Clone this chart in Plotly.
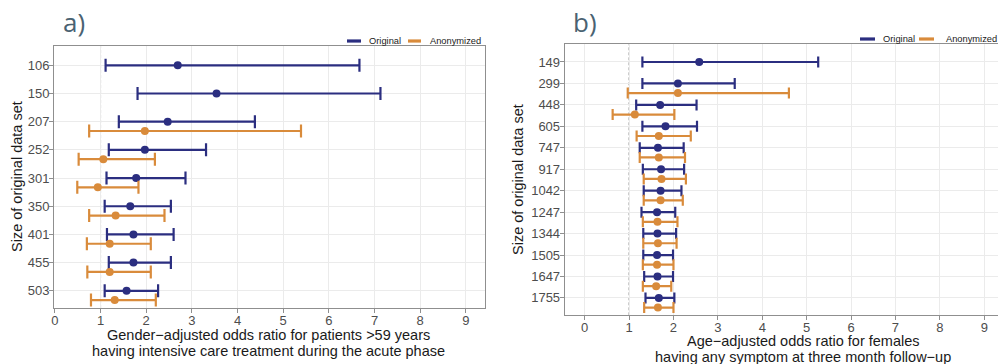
import plotly.graph_objects as go

# ---------------- data ----------------
# Panel a
a_sizes = ["106", "150", "207", "252", "301", "350", "401", "455", "503"]
a_orig_est = [2.69, 3.54, 2.47, 1.97, 1.78, 1.65, 1.72, 1.72, 1.57]
a_orig_lo = [1.11, 1.81, 1.40, 1.18, 1.13, 1.09, 1.14, 1.18, 1.09]
a_orig_hi = [6.67, 7.13, 4.38, 3.31, 2.86, 2.54, 2.60, 2.54, 2.26]
a_anon_est = [None, None, 1.97, 1.06, 0.94, 1.33, 1.20, 1.20, 1.31]
a_anon_lo = [None, None, 0.75, 0.52, 0.49, 0.75, 0.70, 0.71, 0.79]
a_anon_hi = [None, None, 5.39, 2.19, 1.83, 2.40, 2.10, 2.10, 2.21]

# Panel b
b_sizes = ["149", "299", "448", "605", "747", "917", "1042", "1247", "1344", "1505", "1647", "1755"]
b_orig_est = [2.58, 2.10, 1.70, 1.82, 1.65, 1.72, 1.71, 1.63, 1.64, 1.63, 1.64, 1.67]
b_orig_lo = [1.30, 1.30, 1.16, 1.30, 1.24, 1.31, 1.33, 1.28, 1.32, 1.32, 1.34, 1.37]
b_orig_hi = [5.26, 3.38, 2.52, 2.53, 2.23, 2.24, 2.18, 2.04, 2.06, 1.99, 1.99, 2.02]
b_anon_est = [None, 2.10, 1.13, 1.67, 1.67, 1.73, 1.71, 1.64, 1.65, 1.63, 1.61, 1.65]
b_anon_lo = [None, 0.97, 0.63, 1.17, 1.24, 1.33, 1.33, 1.31, 1.32, 1.31, 1.31, 1.34]
b_anon_hi = [None, 4.60, 2.02, 2.39, 2.26, 2.28, 2.21, 2.09, 2.07, 2.00, 1.95, 2.00]

x_ticks = [0, 1, 2, 3, 4, 5, 6, 7, 8, 9]
series_names = ["Original", "Anonymized"]
a_xtitle = ["Gender\u2212adjusted odds ratio for patients >59 years",
            "having intensive care treatment during the acute phase"]
b_xtitle = ["Age\u2212adjusted odds ratio for females",
            "having any symptom at three month follow\u2212up"]
y_title = "Size of original data set"
panel_labels = ["a)", "b)"]

# ---------------- style ----------------
NAVY = "#2b2e80"
ORANGE = "#d98b3b"
GRID = "#ebebeb"
BORDER = "#8f8f8f"
TICKC = "#4d4d4d"
FONT = "Liberation Sans, Arial, sans-serif"
W, H = 998, 364


def px_x(p):
    return p / W


def px_y(p):
    return 1 - p / H


fig = go.Figure()


def add_panel(sizes, oe, ol, oh, ae, al, ah, xa, ya, offset, cap):
    idx = list(range(len(sizes)))
    for name, est, lo, hi, color, yoff in [(series_names[0], oe, ol, oh, NAVY, 0.0),
                                            (series_names[1], ae, al, ah, ORANGE, offset)]:
        xs, ys, em, ep = [], [], [], []
        for i, e, l, h in zip(idx, est, lo, hi):
            if e is None:
                continue
            xs.append(e)
            ys.append(i + yoff)
            em.append(e - l)
            ep.append(h - e)
        fig.add_trace(go.Scatter(
            x=xs, y=ys, mode="markers", name=name, xaxis=xa, yaxis=ya, showlegend=False,
            marker=dict(color=color, size=8),
            error_x=dict(type="data", array=ep, arrayminus=em, color=color,
                         thickness=2.2, width=cap),
            hoverinfo="x+y+name"))


add_panel(a_sizes, a_orig_est, a_orig_lo, a_orig_hi, a_anon_est, a_anon_lo, a_anon_hi,
          "x", "y", 0.33, 6.5)
add_panel(b_sizes, b_orig_est, b_orig_lo, b_orig_hi, b_anon_est, b_anon_lo, b_anon_hi,
          "x2", "y2", 0.45, 5.5)

axis_common = dict(showgrid=True, gridcolor=GRID, gridwidth=1, zeroline=False,
                   ticks="outside", ticklen=4, tickcolor=BORDER, tickwidth=1,
                   showline=True, linecolor=BORDER, linewidth=1, automargin=False,
                   tickfont=dict(family=FONT, size=13, color=TICKC))

fig.update_layout(
    width=W, height=H, margin=dict(l=0, r=0, t=0, b=0, autoexpand=False),
    paper_bgcolor="white", plot_bgcolor="white", showlegend=False,
    font=dict(family=FONT, color="#1a1a1a"),
    xaxis=dict(domain=[px_x(54), px_x(485)], range=[-0.02, 9.42], anchor="y",
               tickvals=x_ticks, ticktext=[str(v) for v in x_ticks], mirror=True,
               ticklabelstandoff=-4, **axis_common),
    yaxis=dict(domain=[px_y(308), px_y(46)], range=[8.61, -0.685], anchor="x",
               tickvals=list(range(len(a_sizes))), ticktext=a_sizes, mirror=True,
               ticklabelstandoff=-3, **axis_common),
    xaxis2=dict(domain=[px_x(564.7), 1.0], range=[-0.45, 9.31], anchor="y2",
                tickvals=x_ticks, ticktext=[str(v) for v in x_ticks], mirror=True,
                ticklabelstandoff=-4, **axis_common),
    yaxis2=dict(domain=[px_y(315.3), px_y(44.3)], range=[11.81, -0.825], anchor="x2",
                tickvals=list(range(len(b_sizes))), ticktext=b_sizes, mirror=False,
                ticklabelstandoff=-3, **axis_common),
)

# reference line at OR = 1
for xr, yr in [("x", "y domain"), ("x2", "y2 domain")]:
    fig.add_shape(type="line", xref=xr, yref=yr, x0=1, x1=1, y0=0, y1=1,
                  line=dict(color="#8c8c8c", width=1, dash="3px,2px"), layer="below")

ann = []
# legends (key line + label) for each panel
legend_pos = [  # (line x0, line x1, text x, y) for each entry, per panel
    [(347, 361, 368, 41), (408, 421, 429, 41)],
    [(860, 875, 882, 39), (919, 934, 945, 39)],
]
for panel in legend_pos:
    for (lx0, lx1, tx, yy), name, color in zip(panel, series_names, [NAVY, ORANGE]):
        fig.add_shape(type="line", xref="paper", yref="paper",
                      x0=px_x(lx0), x1=px_x(lx1), y0=px_y(yy), y1=px_y(yy),
                      line=dict(color=color, width=3.2))
        ann.append(dict(text=name, x=px_x(tx), y=px_y(yy), xref="paper", yref="paper",
                        showarrow=False, xanchor="left", yanchor="middle", borderpad=0,
                        font=dict(family=FONT, size=9.3, color="#1a1a1a")))
# x-axis titles
for lines, cx, ys in [(a_xtitle, 268, [335, 350.5]), (b_xtitle, 803, [341, 357])]:
    for t, yy in zip(lines, ys):
        ann.append(dict(text=t, x=px_x(cx), y=px_y(yy), xref="paper", yref="paper",
                        showarrow=False, xanchor="center", yanchor="middle", borderpad=0,
                        font=dict(family=FONT, size=14.5, color="#1a1a1a")))
# y-axis titles
for cx, cy in [(17, 177), (518, 180)]:
    ann.append(dict(text=y_title, x=px_x(cx), y=px_y(cy), xref="paper", yref="paper",
                    showarrow=False, textangle=-90, xanchor="center", yanchor="middle",
                    font=dict(family=FONT, size=14.5, color="#1a1a1a")))
# panel labels
for t, cx in zip(panel_labels, [74, 585]):
    ann.append(dict(text=t, x=px_x(cx), y=px_y(22), xref="paper", yref="paper",
                    showarrow=False, xanchor="center", yanchor="middle",
                    font=dict(family="Open Sans, Noto Sans, sans-serif", size=26,
                              color="#4a6272")))
fig.update_layout(annotations=ann)

fig.write_html("out.html", config={"displayModeBar": False},
               post_script="document.body.style.margin='0';document.body.style.overflow='hidden';")
